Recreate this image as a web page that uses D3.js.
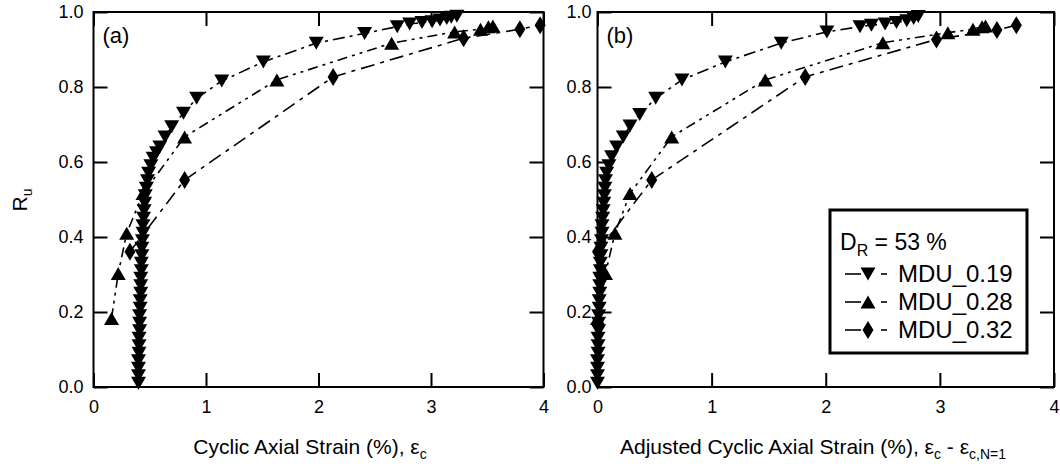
<!DOCTYPE html>
<html>
<head>
<meta charset="utf-8">
<script src="https://cdn.jsdelivr.net/npm/d3@7"></script>
<style>
  body { margin: 0; background: #fff; }
  svg text { font-family: "Liberation Sans", Arial, sans-serif; fill: #000; }
</style>
</head>
<body>
<div id="chart"></div>
<script>
// tick values
var xTicks = [0, 1, 2, 3, 4];
var yTicks = [0, 0.2, 0.4, 0.6, 0.8, 1.0];

// series names
var seriesNames = ["MDU_0.19", "MDU_0.28", "MDU_0.32"];

// panel (a): [cyclic axial strain %, Ru]
var a019 = [[0.40,0.01],[0.40,0.03],[0.40,0.05],[0.40,0.07],[0.405,0.09],[0.405,0.11],[0.405,0.13],
  [0.41,0.15],[0.41,0.17],[0.41,0.19],[0.415,0.21],[0.415,0.23],[0.42,0.25],[0.42,0.27],[0.42,0.29],
  [0.425,0.31],[0.425,0.33],[0.43,0.35],[0.43,0.37],[0.435,0.39],[0.44,0.41],[0.44,0.43],[0.445,0.45],
  [0.45,0.47],[0.455,0.49],[0.46,0.51],[0.47,0.53],[0.48,0.55],[0.49,0.57],[0.51,0.59],[0.53,0.61],
  [0.56,0.625],[0.59,0.64],[0.636,0.667],[0.695,0.694],[0.80,0.73],[0.917,0.77],[1.14,0.816],
  [1.51,0.867],[1.98,0.917],[2.41,0.943],[2.70,0.961],[2.81,0.968],[2.92,0.972],[3.01,0.974],
  [3.08,0.979],[3.14,0.983],[3.18,0.986],[3.23,0.989]];
var a028 = [[0.16,0.183],[0.22,0.303],[0.295,0.41],[0.44,0.516],[0.81,0.667],[1.63,0.819],
  [2.65,0.917],[3.21,0.947],[3.44,0.954],[3.51,0.961],[3.55,0.963]];
var a032 = [[0.324,0.361],[0.81,0.552],[2.13,0.827],[3.29,0.93],[3.79,0.954],[3.97,0.965]];

// panel (b): [adjusted cyclic axial strain %, Ru]
var b019 = [[0.0,0.01],[0.0,0.03],[0.0,0.05],[0.0,0.07],[0.005,0.09],[0.005,0.11],[0.005,0.13],
  [0.01,0.15],[0.01,0.17],[0.01,0.19],[0.015,0.21],[0.015,0.23],[0.02,0.25],[0.02,0.27],[0.02,0.29],
  [0.025,0.31],[0.025,0.33],[0.03,0.35],[0.03,0.37],[0.035,0.39],[0.04,0.41],[0.04,0.43],[0.045,0.45],
  [0.05,0.47],[0.055,0.49],[0.06,0.51],[0.065,0.53],[0.07,0.55],[0.08,0.57],[0.10,0.59],[0.124,0.614],
  [0.168,0.64],[0.226,0.667],[0.285,0.696],[0.37,0.727],[0.51,0.77],[0.74,0.819],[1.12,0.867],
  [1.61,0.917],[2.01,0.947],[2.30,0.961],[2.40,0.965],[2.52,0.968],[2.62,0.972],[2.71,0.977],
  [2.77,0.983],[2.81,0.988]];
var b028 = [[0.0,0.183],[0.07,0.303],[0.153,0.41],[0.285,0.516],[0.65,0.667],[1.47,0.819],
  [2.50,0.918],[3.07,0.945],[3.29,0.954],[3.37,0.961],[3.40,0.963]];
var b032 = [[0.0,0.361],[0.475,0.552],[1.82,0.827],[2.97,0.927],[3.50,0.952],[3.67,0.965]];

var svgWidth = 1060, svgHeight = 473;

var svg = d3.select("#chart").append("svg")
  .attr("width", svgWidth)
  .attr("height", svgHeight);

// marker shapes
var shapes = {
  down: "M-7.5,-6.5L7.5,-6.5L0,6.5Z",
  up: "M-7.5,6.5L7.5,6.5L0,-6.5Z",
  diamond: "M0,-9L5.5,0L0,9L-5.5,0Z"
};
var seriesStyle = [
  {shape: "down", dash: "12,5,3,5"},
  {shape: "up", dash: "10,5,3,5,3,5"},
  {shape: "diamond", dash: "14,6,4,6"}
];

var panels = [
  {left: 93.5, right: 543.5, label: "(a)", data: [a019, a028, a032], pad: 10},
  {left: 597.5, right: 1054, label: "(b)", data: [b019, b028, b032], pad: 6}
];
var plotTop = 12, plotBottom = 387;

panels.forEach(function(p) {
  var x = d3.scaleLinear().domain([0, 4]).range([p.left, p.right]);
  var y = d3.scaleLinear().domain([0, 1]).range([plotBottom, plotTop]);
  var g = svg.append("g");

  // axes with inward ticks
  var xb = g.append("g").attr("transform", `translate(0,${plotBottom})`)
    .call(d3.axisBottom(x).tickValues(xTicks).tickFormat(d3.format("d"))
      .tickSizeInner(-14).tickSizeOuter(0).tickPadding(13));
  var xt = g.append("g").attr("transform", `translate(0,${plotTop})`)
    .call(d3.axisTop(x).tickValues(xTicks).tickFormat("")
      .tickSizeInner(-14).tickSizeOuter(0));
  var yl = g.append("g").attr("transform", `translate(${p.left},0)`)
    .call(d3.axisLeft(y).tickValues(yTicks).tickFormat(d3.format(".1f"))
      .tickSizeInner(-14).tickSizeOuter(0).tickPadding(p.pad));
  var yr = g.append("g").attr("transform", `translate(${p.right},0)`)
    .call(d3.axisRight(y).tickValues(yTicks).tickFormat("")
      .tickSizeInner(-14).tickSizeOuter(0));
  [xb, xt, yl, yr].forEach(function(a) {
    a.attr("font-family", null).attr("font-size", null);
    a.select(".domain").remove();
    a.selectAll("line").attr("stroke", "#000").attr("stroke-width", 2);
    a.selectAll("text").style("font-size", "18px").attr("fill", "#000");
  });

  // frame
  g.append("rect")
    .attr("x", p.left).attr("y", plotTop)
    .attr("width", p.right - p.left).attr("height", plotBottom - plotTop)
    .attr("fill", "none").attr("stroke", "#000").attr("stroke-width", 2);

  // series lines then markers
  var line = d3.line().x(d => x(d[0])).y(d => y(d[1]));
  p.data.forEach(function(pts, i) {
    g.append("path")
      .datum(pts)
      .attr("d", line)
      .attr("fill", "none")
      .attr("stroke", "#000")
      .attr("stroke-width", 1.6)
      .attr("stroke-dasharray", seriesStyle[i].dash);
  });
  p.data.forEach(function(pts, i) {
    g.selectAll(null)
      .data(pts)
      .enter()
      .append("path")
      .attr("d", shapes[seriesStyle[i].shape])
      .attr("transform", d => `translate(${x(d[0])},${y(d[1])})`)
      .attr("fill", "#000");
  });

  g.append("text")
    .attr("x", p.left + 9)
    .attr("y", plotTop + 31)
    .style("font-size", "22px")
    .text(p.label);
});

// y axis title
var yTitle = svg.append("text")
  .attr("transform", "translate(27,200) rotate(-90)")
  .attr("text-anchor", "middle")
  .style("font-size", "21px");
yTitle.append("tspan").text("R");
yTitle.append("tspan").attr("dy", 5).style("font-size", "14px").text("u");

// x axis titles
var xTitleA = svg.append("text")
  .attr("x", 310).attr("y", 454)
  .attr("text-anchor", "middle")
  .style("font-size", "21px");
xTitleA.append("tspan").text("Cyclic Axial Strain (%), ε");
xTitleA.append("tspan").attr("dy", 5).style("font-size", "14px").text("c");

var xTitleB = svg.append("text")
  .attr("x", 813).attr("y", 454)
  .attr("text-anchor", "middle")
  .style("font-size", "21px");
xTitleB.append("tspan").text("Adjusted Cyclic Axial Strain (%), ε");
xTitleB.append("tspan").attr("dy", 5).style("font-size", "14px").text("c");
xTitleB.append("tspan").attr("dy", -5).text(" - ε");
xTitleB.append("tspan").attr("dy", 5).style("font-size", "14px").text("c,N=1");

// legend
var legX = 830, legY = 210, legW = 197, legH = 143;
var legend = svg.append("g");
legend.append("rect")
  .attr("x", legX).attr("y", legY)
  .attr("width", legW).attr("height", legH)
  .attr("fill", "#fff").attr("stroke", "#000").attr("stroke-width", 3);

var dr = legend.append("text")
  .attr("x", legX + 10).attr("y", legY + 40)
  .style("font-size", "23px");
dr.append("tspan").text("D");
dr.append("tspan").attr("dy", 6).style("font-size", "16px").text("R");
dr.append("tspan").attr("dy", -6).text(" = 53 %");

seriesNames.forEach(function(name, i) {
  var ry = legY + 64 + i * 28;
  legend.append("line")
    .attr("x1", legX + 15).attr("x2", legX + 31)
    .attr("y1", ry).attr("y2", ry)
    .attr("stroke", "#000").attr("stroke-width", 1.6);
  legend.append("path")
    .attr("d", shapes[seriesStyle[i].shape])
    .attr("transform", `translate(${legX + 38},${ry})`)
    .attr("fill", "#000");
  legend.append("line")
    .attr("x1", legX + 51).attr("x2", legX + 57)
    .attr("y1", ry).attr("y2", ry)
    .attr("stroke", "#000").attr("stroke-width", 1.6);
  legend.append("text")
    .attr("x", legX + 68).attr("y", ry + 8)
    .style("font-size", "24px")
    .text(name);
});
</script>
</body>
</html>
